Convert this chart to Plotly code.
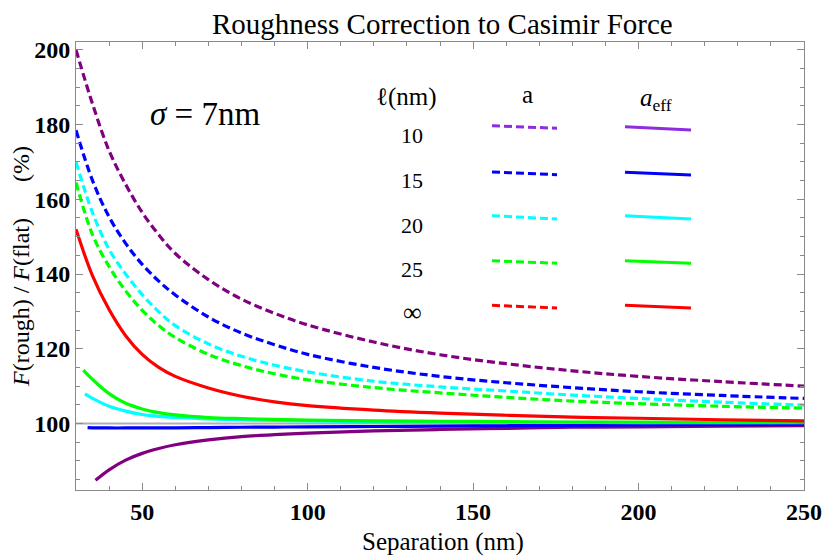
import plotly.graph_objects as go

# ---------------- data ----------------
sep = [30, 35, 40, 45, 50, 55, 60, 70, 80, 90, 100, 120, 140, 160, 180, 200, 225, 250]

# dashed curves: using a
a_10 = [200, 185.5, 173, 164, 156.5, 150.5, 145.5, 138.5, 133.3, 129.5, 126.4, 121.8, 118.4, 116.0, 114.1, 112.6, 111.2, 110.0]
a_15 = [178.5, 165, 155.3, 148.2, 142.6, 138.1, 134.4, 128.5, 124.2, 121.1, 118.5, 115.0, 112.6, 110.9, 109.6, 108.5, 107.5, 106.7]
a_20 = [170, 156.4, 146.6, 140, 134.5, 129.9, 126.2, 121.3, 118, 115.6, 113.8, 111.3, 109.8, 108.7, 107.6, 106.7, 105.7, 104.9]
a_25 = [164.5, 150.5, 142, 135.5, 130.3, 126.2, 123, 118.5, 115.5, 113.3, 111.7, 109.6, 108.2, 107.0, 106.0, 105.3, 104.6, 104.1]

# solid curves: using a_eff
sep_inf = sep
eff_inf = [152, 139.5, 130.5, 123.5, 118.5, 115, 112.6, 109.5, 107.3, 105.8, 104.8, 103.6, 102.8, 102.2, 101.7, 101.4, 101.0, 100.7]

sep_25 = [32.2, 35, 40, 45, 50, 55, 60, 70, 80, 90, 100, 120, 140, 160, 180, 200, 225, 250]
eff_25 = [114.3, 111.8, 108.0, 105.4, 103.9, 102.9, 102.3, 101.6, 101.3, 101.1, 100.9, 100.7, 100.6, 100.5, 100.4, 100.35, 100.3, 100.3]

sep_20 = [32.7, 35, 40, 45, 50, 55, 60, 70, 80, 90, 100, 120, 140, 160, 180, 200, 225, 250]
eff_20 = [107.9, 106.7, 104.6, 103.3, 102.4, 101.9, 101.6, 101.2, 101.0, 100.8, 100.7, 100.5, 100.4, 100.35, 100.3, 100.25, 100.2, 100.2]

sep_15 = [33.5, 35, 40, 45, 50, 55, 60, 70, 80, 90, 100, 120, 140, 160, 180, 200, 225, 250]
eff_15 = [98.9, 98.85, 98.8, 98.8, 98.8, 98.82, 98.85, 98.9, 99.0, 99.05, 99.1, 99.2, 99.3, 99.4, 99.5, 99.6, 99.7, 99.8]

sep_10 = [35.9, 40, 45, 50, 55, 60, 70, 80, 90, 100, 120, 140, 160, 180, 200, 225, 250]
eff_10 = [84.8, 87.6, 90.2, 92.0, 93.3, 94.3, 95.6, 96.5, 97.0, 97.4, 98.0, 98.4, 98.7, 99.0, 99.1, 99.3, 99.4]

x_ticks = [50, 100, 150, 200, 250]
y_ticks = [100, 120, 140, 160, 180, 200]

legend_rows = ["10", "15", "20", "25", "\u221e"]
legend_colors = ["#8f2be0", "#0000ff", "#00ffff", "#00ff00", "#ff0000"]

PURPLE = "#800080"
BLUE = "#0000ff"
CYAN = "#00ffff"
GREEN = "#00ff00"
RED = "#ff0000"

FONT = "Liberation Serif"

fig = go.Figure()

dash_pat = "8px,4px"
LW = 3.2

for y, c in [(a_10, PURPLE), (a_15, BLUE), (a_20, CYAN), (a_25, GREEN)]:
    fig.add_trace(go.Scatter(x=sep, y=y, mode="lines",
                             line=dict(color=c, width=LW, dash=dash_pat, shape="spline", smoothing=1.0),
                             showlegend=False, hoverinfo="skip"))

for xs, y, c in [(sep_10, eff_10, PURPLE), (sep_15, eff_15, BLUE), (sep_20, eff_20, CYAN),
                 (sep_25, eff_25, GREEN), (sep_inf, eff_inf, RED)]:
    fig.add_trace(go.Scatter(x=xs, y=y, mode="lines",
                             line=dict(color=c, width=LW, shape="spline", smoothing=1.0),
                             showlegend=False, hoverinfo="skip"))

# ---------------- layout geometry ----------------
# the page body adds an 8px offset, so the figure is shifted to compensate
W, H = 830, 559
OFF = 8
PW, PH = 728, 448
L, T = 76 - OFF, 42 - OFF
R, B = W - L - PW, H - T - PH


def px(xp):
    return (xp - 76) / PW


def py(yp):
    return (42 + PH - yp) / PH


shapes = []
# reference line at 100
shapes.append(dict(type="line", xref="paper", yref="y", x0=0, x1=1, y0=100, y1=100,
                   line=dict(color="#b0b0b0", width=2), layer="below"))

# custom legend
row_y_dash = [(125.7, 128.3), (172.0, 174.7), (215.7, 219.0), (260.7, 263.3), (305.3, 308.0)]
row_y_sol = [(126.7, 130.0), (172.3, 175.0), (215.7, 219.0), (260.7, 263.3), (305.3, 308.0)]
row_text_y = [135, 180, 225, 269, 312]

annotations = []
for i, (lab, col) in enumerate(zip(legend_rows, legend_colors)):
    y0, y1 = row_y_dash[i]
    shapes.append(dict(type="line", xref="paper", yref="paper", x0=px(492), x1=px(557), y0=py(y0), y1=py(y1),
                       line=dict(color=col, width=3, dash="8px,4px")))
    y0, y1 = row_y_sol[i]
    shapes.append(dict(type="line", xref="paper", yref="paper", x0=px(625), x1=px(691), y0=py(y0), y1=py(y1),
                       line=dict(color=col, width=3)))
    annotations.append(dict(text=lab, xref="paper", yref="paper", x=px(412), y=py(row_text_y[i]),
                            showarrow=False, xanchor="center", yanchor="middle",
                            font=dict(family=FONT, size=22 if lab != "\u221e" else 26, color="black")))

annotations += [
    dict(text="\u2113(nm)", xref="paper", yref="paper", x=px(406), y=py(97), showarrow=False,
         xanchor="center", yanchor="middle", font=dict(family=FONT, size=25, color="black")),
    dict(text="a", xref="paper", yref="paper", x=px(527), y=py(94), showarrow=False,
         xanchor="center", yanchor="middle", font=dict(family=FONT, size=25, color="black")),
    dict(text="<i>a</i><sub>eff</sub>", xref="paper", yref="paper", x=px(656), y=py(99), showarrow=False,
         xanchor="center", yanchor="middle", font=dict(family=FONT, size=25, color="black")),
    dict(text="<i>\u03c3</i> = 7nm", xref="paper", yref="paper", x=px(205), y=py(114), showarrow=False,
         xanchor="center", yanchor="middle", font=dict(family=FONT, size=33, color="black")),
    dict(text="Separation (nm)", xref="paper", yref="paper", x=px(443), y=py(542), showarrow=False,
         xanchor="center", yanchor="middle", font=dict(family=FONT, size=25, color="black")),
    dict(text="Roughness Correction to Casimir Force", xref="paper", yref="paper", x=px(442), y=py(24),
         showarrow=False, xanchor="center", yanchor="middle", font=dict(family=FONT, size=29, color="black")),
]

axis_common = dict(showline=True, linecolor="#8a8a8a", linewidth=1, mirror="ticks", ticks="inside",
                   ticklen=7, tickcolor="#8a8a8a", tickwidth=1, showgrid=False, zeroline=False,
                   tickfont=dict(family=FONT, size=24, color="black", weight="bold"))

fig.update_layout(
    width=W, height=H,
    margin=dict(l=L, r=R, t=T, b=B),
    paper_bgcolor="white", plot_bgcolor="white",
    xaxis=dict(range=[30, 250], tickvals=x_ticks, ticktext=[str(v) for v in x_ticks],
               minor=dict(dtick=10, tick0=0, ticks="inside", ticklen=4, tickcolor="#8a8a8a", showgrid=False),
               **axis_common),
    yaxis=dict(range=[82.2, 202.1], tickvals=y_ticks, ticktext=[str(v) for v in y_ticks],
               minor=dict(dtick=5, tick0=0, ticks="inside", ticklen=4, tickcolor="#8a8a8a", showgrid=False),
               title=dict(text="<i>F</i>(rough) / <i>F</i>(flat)" + "\u00a0" * 6 + "(%)",
                          font=dict(family=FONT, size=24, color="black"), standoff=2),
               automargin=False,
               **axis_common),
    shapes=shapes,
    annotations=annotations,
    showlegend=False,
)

fig.write_html("out.html")
